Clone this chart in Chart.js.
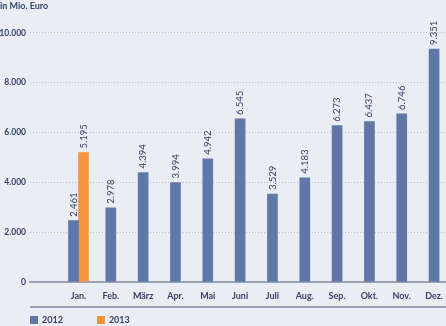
<!DOCTYPE html>
<html lang="de">
<head>
<meta charset="utf-8">
<title>Monatswerte 2012 / 2013</title>
<script src="https://cdn.jsdelivr.net/npm/chart.js@4.4.0/dist/chart.umd.min.js"></script>
<style>
  html, body {
    margin: 0;
    padding: 0;
    background: #eaedf4;
    overflow: hidden;
  }
  .wrap {
    position: relative;
    width: 446px;
    height: 326px;
    overflow: hidden;
  }
  #chart {
    position: absolute;
    left: 0;
    top: 0;
  }
  .rule {
    position: absolute;
    left: 30px;
    right: 0;
    top: 306px;
    height: 2px;
    background: #98a0b2;
  }
  .legend {
    position: absolute;
    left: 30px;
    top: 314px;
    font: bold 9px "Lato", sans-serif;
    color: #34436a;
    display: flex;
    gap: 34px;
  }
  .legend span {
    display: flex;
    align-items: center;
  }
  .legend i {
    display: inline-block;
    width: 8px;
    height: 8px;
    margin-right: 4px;
  }
</style>
</head>
<body>
<div class="wrap">
  <canvas id="chart" width="452" height="326"></canvas>
  <div class="rule"></div>
  <div class="legend" id="legend"></div>
</div>
<script>
// Monatswerte in Mio. Euro
const months = ["Jan.", "Feb.", "März", "Apr.", "Mai", "Juni", "Juli", "Aug.", "Sep.", "Okt.", "Nov.", "Dez."];
const values2012 = [2461, 2978, 4394, 3994, 4942, 6545, 3529, 4183, 6273, 6437, 6746, 9351];
const values2013 = [5195, null, null, null, null, null, null, null, null, null, null, null];
const yTicks = [0, 2000, 4000, 6000, 8000, 10000];

const BLUE = "#5f78a8";
const ORANGE = "#f7953f";
const TEXT = "#34436a";
const FONT = "Lato, sans-serif";

// 1234 -> "1.234"
function fmt(v) {
  return String(v).replace(/\B(?=(\d{3})+(?!\d))/g, ".");
}

// Werte senkrecht über die Balken schreiben
const barValueLabels = {
  id: "barValueLabels",
  afterDatasetsDraw(chart) {
    const ctx = chart.ctx;
    ctx.save();
    ctx.fillStyle = TEXT;
    ctx.font = "9.5px " + FONT;
    ctx.textAlign = "left";
    ctx.textBaseline = "middle";
    chart.data.datasets.forEach((ds, i) => {
      const meta = chart.getDatasetMeta(i);
      meta.data.forEach((bar, j) => {
        const v = ds.data[j];
        if (v == null) return;
        ctx.save();
        ctx.translate(bar.x, bar.y - 4);
        ctx.rotate(-Math.PI / 2);
        ctx.fillText(fmt(v), 0, 0);
        ctx.restore();
      });
    });
    ctx.restore();
  },
};

// leere erste Kategorie schafft den Abstand zwischen Achse und Januar
const labels = [""].concat(months);

const chart = new Chart(document.getElementById("chart"), {
  type: "bar",
  data: {
    labels: labels,
    datasets: [
      {
        label: "2012",
        data: [null].concat(values2012),
        backgroundColor: BLUE,
        barThickness: 10,
        skipNull: true,
      },
      {
        label: "2013",
        data: [null].concat(values2013),
        backgroundColor: ORANGE,
        barThickness: 10,
        skipNull: true,
      },
    ],
  },
  options: {
    responsive: false,
    devicePixelRatio: 1,
    animation: false,
    layout: { padding: 0 },
    plugins: {
      legend: { display: false },
      tooltip: { enabled: false },
      title: {
        display: true,
        text: "in Mio. Euro",
        align: "start",
        color: TEXT,
        font: { family: FONT, size: 9, weight: "bold" },
        padding: { top: 1, bottom: 21 },
      },
    },
    scales: {
      x: {
        grid: { display: false, drawTicks: false },
        border: { display: true, color: "#9aa2b4", width: 2 },
        ticks: {
          color: TEXT,
          font: { family: FONT, size: 9, weight: "bold" },
          padding: 9,
          maxRotation: 0,
          autoSkip: false,
        },
        afterFit(scale) {
          scale.height = 44;
        },
      },
      y: {
        min: 0,
        max: 10000,
        afterBuildTicks(scale) {
          scale.ticks = yTicks.map((v) => ({ value: v }));
        },
        grid: { color: "#b9c0ce", lineWidth: 1, drawTicks: false },
        border: { display: false, dash: [1, 2] },
        ticks: {
          color: TEXT,
          font: { family: FONT, size: 8.5, weight: "bold" },
          padding: 4,
          callback: (v) => fmt(v),
        },
        afterFit(scale) {
          scale.width = 30;
        },
      },
    },
  },
  plugins: [barValueLabels],
});

// Legende
const legendEl = document.getElementById("legend");
chart.data.datasets.forEach((ds) => {
  const item = document.createElement("span");
  const box = document.createElement("i");
  box.style.background = ds.backgroundColor;
  item.appendChild(box);
  item.appendChild(document.createTextNode(ds.label));
  legendEl.appendChild(item);
});
</script>
</body>
</html>
